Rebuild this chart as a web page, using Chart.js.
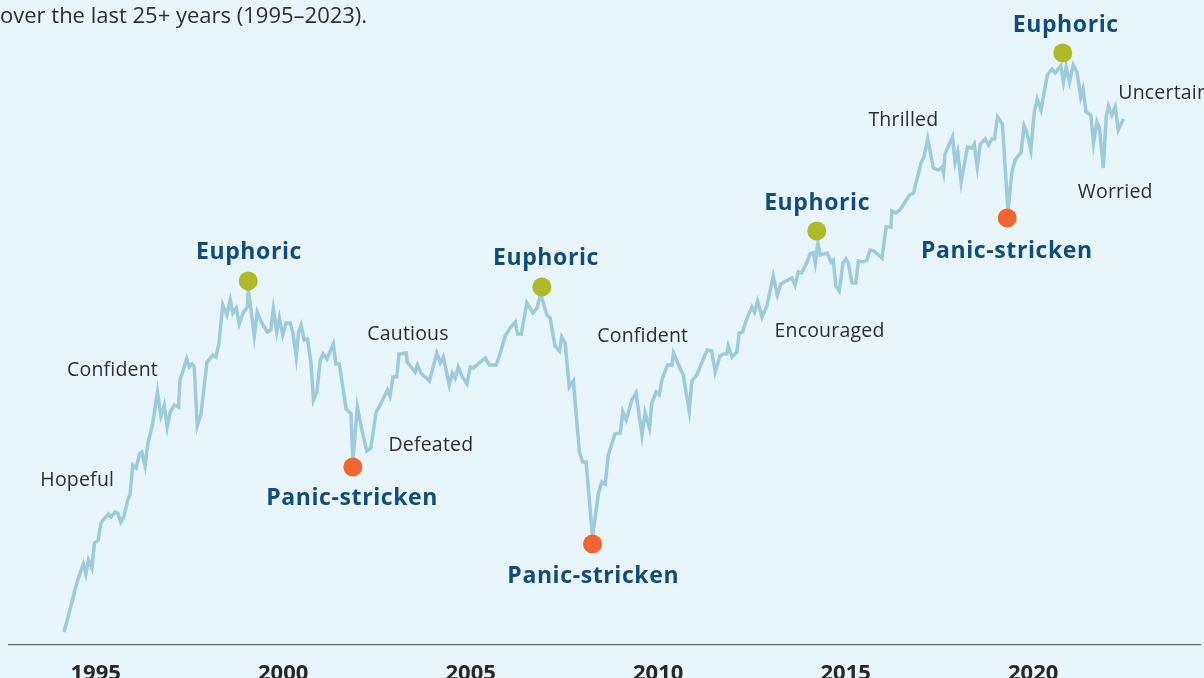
<!DOCTYPE html>
<html>
<head>
<meta charset="utf-8">
<script src="https://cdn.jsdelivr.net/npm/chart.js@4.4.1/dist/chart.umd.min.js"></script>
<style>
  html, body { margin: 0; padding: 0; background: #e8f5fb; overflow: hidden; }
  #wrap { width: 1204px; height: 678px; }
</style>
</head>
<body>
<div id="wrap"><canvas id="cycleChart" width="1204" height="678"></canvas></div>
<script>
// market index level (arbitrary units), fractional years
const years = [
  1994.16, 1994.50, 1994.67, 1994.74, 1994.81, 1994.90, 1994.97, 1995.07, 1995.14, 1995.34,
  1995.41, 1995.52, 1995.59, 1995.67, 1995.76, 1995.85, 1995.92, 1995.99, 1996.08, 1996.17,
  1996.23, 1996.32, 1996.39, 1996.53, 1996.65, 1996.74, 1996.83, 1996.91, 1996.99, 1997.10,
  1997.21, 1997.25, 1997.43, 1997.50, 1997.57, 1997.63, 1997.71, 1997.81, 1997.97, 1998.13,
  1998.21, 1998.29, 1998.39, 1998.50, 1998.59, 1998.66, 1998.75, 1998.83, 1998.93, 1999.05,
  1999.07, 1999.12, 1999.23, 1999.31, 1999.43, 1999.58, 1999.67, 1999.74, 1999.83, 1999.90,
  1999.99, 2000.08, 2000.19, 2000.26, 2000.35, 2000.41, 2000.48, 2000.56, 2000.65, 2000.74,
  2000.81, 2000.90, 2000.99, 2001.07, 2001.17, 2001.34, 2001.41, 2001.50, 2001.68, 2001.81,
  2001.86, 2001.98, 2002.10, 2002.23, 2002.34, 2002.48, 2002.59, 2002.78, 2002.85, 2002.93,
  2003.03, 2003.09, 2003.28, 2003.31, 2003.52, 2003.58, 2003.67, 2003.90, 2004.10, 2004.19,
  2004.27, 2004.43, 2004.51, 2004.59, 2004.67, 2004.78, 2004.90, 2004.99, 2005.07, 2005.39,
  2005.50, 2005.68, 2005.79, 2005.92, 2006.05, 2006.19, 2006.25, 2006.35, 2006.50, 2006.66,
  2006.77, 2006.87, 2007.03, 2007.12, 2007.25, 2007.37, 2007.43, 2007.52, 2007.63, 2007.74,
  2007.90, 2007.99, 2008.08, 2008.25, 2008.41, 2008.50, 2008.59, 2008.67, 2008.85, 2008.99,
  2009.06, 2009.15, 2009.30, 2009.41, 2009.57, 2009.65, 2009.77, 2009.83, 2009.95, 2010.03,
  2010.10, 2010.25, 2010.37, 2010.41, 2010.57, 2010.67, 2010.83, 2010.90, 2011.03, 2011.17,
  2011.31, 2011.43, 2011.52, 2011.65, 2011.74, 2011.83, 2011.87, 2011.97, 2012.10, 2012.16,
  2012.25, 2012.37, 2012.50, 2012.57, 2012.65, 2012.77, 2012.90, 2013.07, 2013.18, 2013.27,
  2013.57, 2013.65, 2013.74, 2013.83, 2013.97, 2014.05, 2014.14, 2014.19, 2014.26, 2014.32,
  2014.51, 2014.61, 2014.67, 2014.74, 2014.83, 2014.93, 2015.01, 2015.07, 2015.17, 2015.27,
  2015.34, 2015.47, 2015.57, 2015.65, 2015.76, 2015.97, 2016.08, 2016.21, 2016.23, 2016.34,
  2016.45, 2016.70, 2016.81, 2017.01, 2017.09, 2017.19, 2017.34, 2017.47, 2017.57, 2017.61,
  2017.65, 2017.85, 2017.92, 2017.99, 2018.08, 2018.25, 2018.37, 2018.43, 2018.51, 2018.59,
  2018.72, 2018.81, 2018.90, 2018.97, 2019.05, 2019.18, 2019.33, 2019.43, 2019.52, 2019.68,
  2019.76, 2019.83, 2019.94, 2020.03, 2020.11, 2020.21, 2020.38, 2020.50, 2020.59, 2020.74,
  2020.81, 2020.88, 2020.97, 2021.07, 2021.17, 2021.27, 2021.33, 2021.41, 2021.54, 2021.61,
  2021.70, 2021.77, 2021.87, 2021.95, 2022.01, 2022.10, 2022.19, 2022.27, 2022.41
];
const levels = [
  13, 62, 81, 71, 85, 77, 102, 105, 122, 131,
  128, 133, 132, 123, 129, 144, 151, 180, 177, 191,
  193, 179, 201, 223, 253, 229, 240, 218, 233, 240,
  238, 265, 286, 278, 281, 278, 219, 231, 283, 290,
  288, 302, 340, 330, 345, 332, 337, 321, 332, 338,
  356, 342, 309, 333, 322, 313, 315, 336, 313, 327,
  310, 322, 322, 312, 288, 313, 320, 305, 306, 283,
  245, 253, 285, 291, 286, 301, 281, 281, 236, 231,
  183, 238, 215, 194, 197, 233, 240, 255, 249, 268,
  268, 291, 292, 283, 273, 280, 272, 264, 292, 282,
  288, 260, 272, 267, 278, 268, 261, 278, 277, 287,
  280, 280, 292, 309, 317, 323, 311, 311, 342, 332,
  337, 351, 330, 327, 299, 294, 308, 302, 258, 264,
  193, 183, 183, 108, 152, 163, 161, 190, 211, 212,
  233, 225, 245, 252, 210, 232, 217, 242, 253, 250,
  265, 280, 280, 292, 278, 270, 234, 264, 270, 283,
  295, 294, 273, 289, 291, 291, 299, 288, 293, 312,
  313, 327, 338, 333, 344, 328, 339, 369, 350, 361,
  367, 360, 373, 372, 383, 391, 392, 382, 402, 390,
  392, 383, 385, 359, 354, 382, 386, 382, 362, 362,
  384, 383, 385, 395, 394, 387, 418, 418, 434, 432,
  435, 450, 452, 482, 488, 506, 477, 475, 478, 472,
  491, 508, 483, 493, 463, 498, 497, 501, 478, 501,
  506, 500, 506, 506, 528, 521, 434, 472, 485, 493,
  519, 513, 495, 533, 546, 535, 570, 576, 572, 579,
  563, 578, 563, 580, 573, 548, 556, 533, 530, 502,
  523, 517, 477, 528, 539, 530, 538, 515, 526
];

// market tops (green) and bottoms (orange)
const peakYears = [1999.07, 2006.90, 2014.23, 2020.79];
const peakLevels = [364, 358, 414, 592];
const troughYears = [2001.86, 2008.25, 2019.31];
const troughLevels = [178, 101, 427];

// emotion labels
const moodText = ['Hopeful', 'Confident', 'Euphoric', 'Panic-stricken', 'Defeated', 'Cautious',
  'Euphoric', 'Confident', 'Panic-stricken', 'Encouraged', 'Euphoric', 'Thrilled',
  'Panic-stricken', 'Euphoric', 'Uncertain', 'Worried'];
const moodYears = [1994.51, 1995.45, 1999.09, 2001.84, 2003.94, 2003.33,
  2007.01, 2009.59, 2008.27, 2014.57, 2014.24, 2016.54,
  2019.30, 2020.87, 2022.27, 2022.19];
const moodLevels = [159, 269, 386, 140, 194, 305,
  380, 303, 62, 308, 435, 519,
  387, 613, 546, 447];
const strongMoods = ['Euphoric', 'Panic-stricken'];

const tickYears = [1995, 2000, 2005, 2010, 2015, 2020];
const subtitle = 'over the last 25+ years (1995\u20132023).';

const moodPlugin = {
    id: 'moods',
    afterDatasetsDraw(chart) {
        const ctx = chart.ctx;
        const x = chart.scales.x;
        const y = chart.scales.y;
        ctx.save();
        ctx.textBaseline = 'alphabetic';
        moodText.forEach((t, i) => {
            const strong = strongMoods.includes(t);
            ctx.font = strong ? '700 23px "Open Sans"' : '400 19.5px "Open Sans"';
            ctx.letterSpacing = strong ? '0.6px' : '0.2px';
            ctx.fillStyle = strong ? '#0f4c81' : '#2e2e2e';
            ctx.textAlign = t === 'Uncertain' ? 'left' : 'center';
            ctx.fillText(t, x.getPixelForValue(moodYears[i]), y.getPixelForValue(moodLevels[i]));
        });
        ctx.font = '400 22px "Open Sans"';
        ctx.letterSpacing = '0px';
        ctx.fillStyle = '#2e2e2e';
        ctx.textAlign = 'left';
        ctx.fillText(subtitle, 0, 23);
        ctx.restore();
    }
};

function drawChart() {
    new Chart(document.getElementById('cycleChart'), {
        type: 'line',
        data: {
            datasets: [{
                label: 'Market',
                data: years.map((yr, i) => ({ x: yr, y: levels[i] })),
                borderColor: '#9ccbdb',
                borderWidth: 3.5,
                pointRadius: 0,
                tension: 0,
                order: 2
            }, {
                label: 'Tops',
                data: peakYears.map((yr, i) => ({ x: yr, y: peakLevels[i] })),
                showLine: false,
                pointRadius: 9.5,
                pointBackgroundColor: '#aebb26',
                pointBorderWidth: 0,
                order: 1
            }, {
                label: 'Bottoms',
                data: troughYears.map((yr, i) => ({ x: yr, y: troughLevels[i] })),
                showLine: false,
                pointRadius: 9.5,
                pointBackgroundColor: '#f26430',
                pointBorderWidth: 0,
                order: 1
            }]
        },
        options: {
            responsive: false,
            animation: false,
            devicePixelRatio: 1,
            layout: { autoPadding: false, padding: { left: 9, right: 4, top: 0, bottom: 0 } },
            scales: {
                x: {
                    type: 'linear',
                    min: 1992.69,
                    max: 2024.45,
                    afterBuildTicks: axis => { axis.ticks = tickYears.map(v => ({ value: v })); },
                    afterFit: axis => {
                        axis.height = 33;
                        axis.paddingLeft = 0;
                        axis.paddingRight = 0;
                    },
                    grid: { display: false, drawTicks: false },
                    border: { display: true, color: '#5e6a72', width: 1.3 },
                    ticks: {
                        padding: 18,
                        maxRotation: 0,
                        autoSkip: false,
                        color: '#262626',
                        font: { family: 'Open Sans', size: 22, weight: '700', lineHeight: 1 },
                        callback: v => String(v)
                    }
                },
                y: {
                    display: false,
                    min: 0,
                    max: 645
                }
            },
            plugins: {
                legend: { display: false },
                tooltip: { enabled: false }
            },
            clip: false
        },
        plugins: [moodPlugin]
    });
}

Promise.all([
    document.fonts.load('400 20px "Open Sans"'),
    document.fonts.load('700 22px "Open Sans"')
]).then(drawChart, drawChart);
</script>
</body>
</html>
